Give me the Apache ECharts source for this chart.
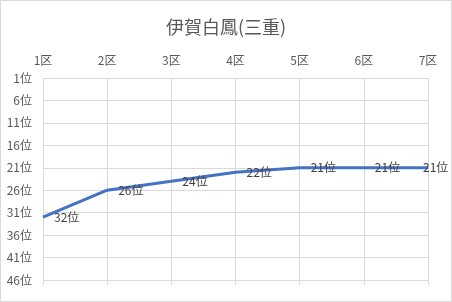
<!DOCTYPE html>
<html><head><meta charset="utf-8">
<script src="https://cdn.jsdelivr.net/npm/echarts@6/dist/echarts.min.js"></script>
<style>
html,body{margin:0;padding:0;background:#fff;}
#c{width:452px;height:302px;box-sizing:border-box;border:1px solid #D9D9D9;}
</style></head>
<body><div id="c"></div>
<script>
const title = '伊賀白鳳(三重)';
const categories = ['1区','2区','3区','4区','5区','6区','7区'];
const ranks = [32, 26, 24, 22, 21, 21, 21];
const rankMin = 1, rankMax = 46, rankStep = 5;

const font = '"Noto Sans CJK JP", "Noto Sans", sans-serif';
const grey = '#595959';
const gridC = '#D9D9D9';

const chart = echarts.init(document.getElementById('c'), null, {renderer:'canvas'});
const seriesData = ranks.map((v, i) => i === ranks.length - 1
  ? {value: v, label: {offset: [-16, 0]}}
  : v);
chart.setOption({
  animation: false,
  title: {text: title, left: 'center', top: 12,
    textStyle: {fontFamily: font, fontSize: 18, fontWeight: 'normal', color: grey}},
  grid: {left: 42, right: 23, top: 77, bottom: 21},
  xAxis: [{
    type: 'category', data: categories, position: 'top', boundaryGap: false,
    axisLine: {show: false}, axisTick: {show: false},
    axisLabel: {fontFamily: font, fontSize: 12, color: grey, margin: 12},
    splitLine: {show: true, lineStyle: {color: gridC, width: 1}}
  }, {
    type: 'category', data: categories, position: 'bottom', boundaryGap: false,
    axisLine: {show: false}, axisTick: {show: true, length: 5, lineStyle: {color: gridC}},
    axisLabel: {show: false}, splitLine: {show: false}
  }],
  yAxis: {
    type: 'value', inverse: true, min: rankMin, max: rankMax, interval: rankStep,
    axisLine: {show: false}, axisTick: {show: false},
    axisLabel: {fontFamily: font, fontSize: 12, color: grey, margin: 11, formatter: '{value}位'},
    splitLine: {show: true, lineStyle: {color: gridC, width: 1}}
  },
  series: [{
    type: 'line', data: seriesData, xAxisIndex: 0,
    symbol: 'circle', symbolSize: 0, showSymbol: true,
    lineStyle: {color: '#4472C4', width: 3}, itemStyle: {color: '#4472C4'},
    label: {show: true, position: 'right', distance: 11, formatter: '{c}位',
      fontFamily: font, fontSize: 12, color: '#404040'}
  }]
});
</script></body></html>
